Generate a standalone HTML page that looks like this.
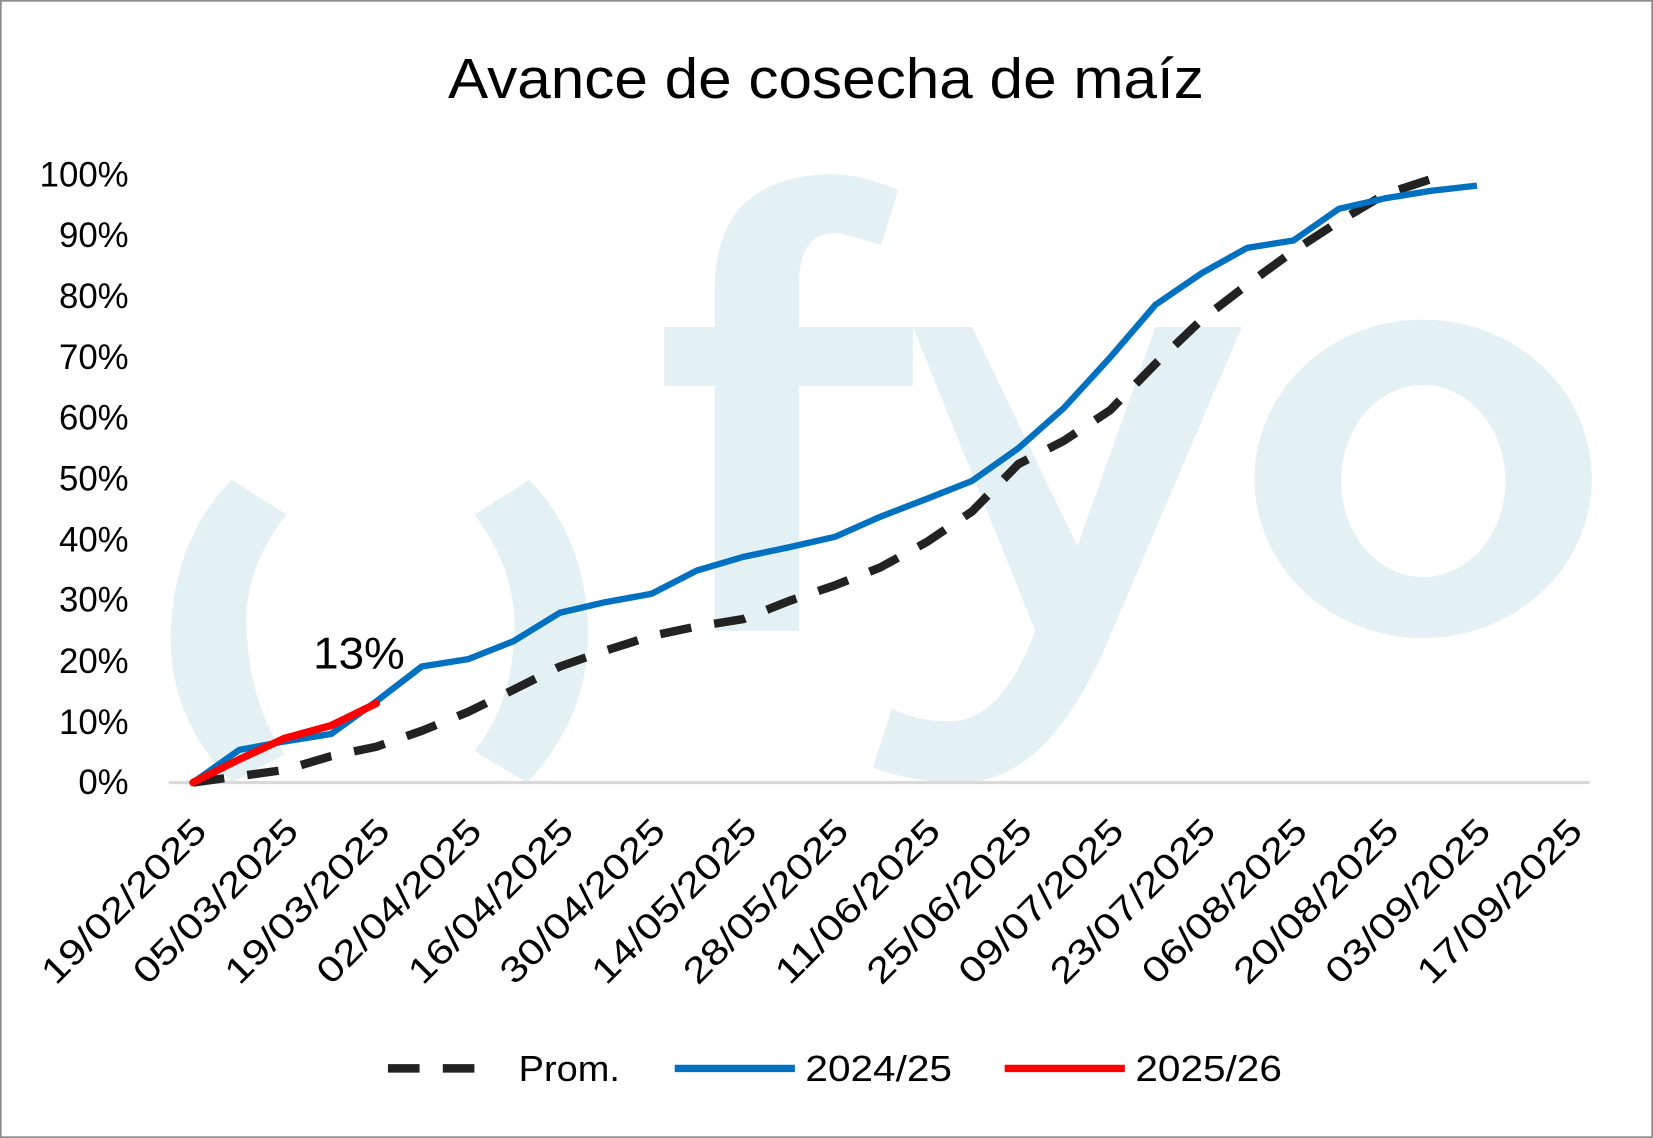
<!DOCTYPE html>
<html><head><meta charset="utf-8"><style>
html,body{margin:0;padding:0;background:#fff;}
svg{display:block;}
text{font-family:"Liberation Sans",sans-serif;}
</style></head><body>
<svg width="1653" height="1138" viewBox="0 0 1568 1079" preserveAspectRatio="none" xmlns="http://www.w3.org/2000/svg">
<rect x="0.8" y="0.8" width="1566.4" height="1077.4" fill="#fff" stroke="#8c8c8c" stroke-width="1.6"/>
<g fill="#e3f1f5">
<path d="M220,455 L272,488 Q230,540 234,600 Q238,670 270,715 L220,742 Q160,680 162,600 Q165,510 220,455 Z"/>
<path d="M502,455 L450,488 Q490,540 488,600 Q485,670 450,712 L500,742 Q558,680 558,600 Q556,510 502,455 Z"/>
<path d="M678,598 L758,598 L758,366 L866,366 L866,310 L758,310 L758,265 Q760,215 800,222 L836,232 L852,180 Q815,165 788,165 Q680,168 678,270 L678,310 L630,310 L630,366 L678,366 Z"/>
<path d="M866,310 L922,310 L1022,518 L1096,310 L1178,310 L1050,610 Q990,750 900,742 Q860,740 828,728 L846,672 Q870,684 900,684 Q950,684 982,598 Z"/>
<path fill-rule="evenodd" d="M1190,454 A160,151 0 1 0 1510,454 A160,151 0 1 0 1190,454 Z M1272,456 A78,91 0 1 0 1428,456 A78,91 0 1 0 1272,456 Z"/>
</g>
<line x1="160" y1="742" x2="1508" y2="742" stroke="#d9d9d9" stroke-width="3"/>
<text x="425" y="93" font-size="54" textLength="717" lengthAdjust="spacingAndGlyphs" fill="#000">Avance de cosecha de maíz</text>
<g font-size="33" fill="#000" text-anchor="end">
<text x="122" y="177">100%</text><text x="122" y="234">90%</text><text x="122" y="292">80%</text><text x="122" y="350">70%</text><text x="122" y="407">60%</text><text x="122" y="465">50%</text><text x="122" y="523">40%</text><text x="122" y="580">30%</text><text x="122" y="638">20%</text><text x="122" y="696">10%</text><text x="122" y="753">0%</text>
</g>
<g font-size="34" fill="#000" text-anchor="end">
<text transform="translate(198,790) rotate(-45)" textLength="205" lengthAdjust="spacingAndGlyphs">19/02/2025</text>
<text transform="translate(285,790) rotate(-45)" textLength="205" lengthAdjust="spacingAndGlyphs">05/03/2025</text>
<text transform="translate(372,790) rotate(-45)" textLength="205" lengthAdjust="spacingAndGlyphs">19/03/2025</text>
<text transform="translate(459,790) rotate(-45)" textLength="205" lengthAdjust="spacingAndGlyphs">02/04/2025</text>
<text transform="translate(546,790) rotate(-45)" textLength="205" lengthAdjust="spacingAndGlyphs">16/04/2025</text>
<text transform="translate(633,790) rotate(-45)" textLength="205" lengthAdjust="spacingAndGlyphs">30/04/2025</text>
<text transform="translate(720,790) rotate(-45)" textLength="205" lengthAdjust="spacingAndGlyphs">14/05/2025</text>
<text transform="translate(807,790) rotate(-45)" textLength="205" lengthAdjust="spacingAndGlyphs">28/05/2025</text>
<text transform="translate(894,790) rotate(-45)" textLength="205" lengthAdjust="spacingAndGlyphs">11/06/2025</text>
<text transform="translate(981,790) rotate(-45)" textLength="205" lengthAdjust="spacingAndGlyphs">25/06/2025</text>
<text transform="translate(1068,790) rotate(-45)" textLength="205" lengthAdjust="spacingAndGlyphs">09/07/2025</text>
<text transform="translate(1155,790) rotate(-45)" textLength="205" lengthAdjust="spacingAndGlyphs">23/07/2025</text>
<text transform="translate(1242,790) rotate(-45)" textLength="205" lengthAdjust="spacingAndGlyphs">06/08/2025</text>
<text transform="translate(1329,790) rotate(-45)" textLength="205" lengthAdjust="spacingAndGlyphs">20/08/2025</text>
<text transform="translate(1416,790) rotate(-45)" textLength="205" lengthAdjust="spacingAndGlyphs">03/09/2025</text>
<text transform="translate(1503,790) rotate(-45)" textLength="205" lengthAdjust="spacingAndGlyphs">17/09/2025</text>
</g>
<polyline fill="none" stroke="#222" stroke-width="8" stroke-dasharray="30,22" stroke-linejoin="round" points="183,742 270,730 314,717 357,708 400,693 444,675 487,654 531,632 574,617 618,603 661,594 705,587 748,570 792,555 835,538 879,514 922,485 966,440 1009,418 1053,389 1096,345 1140,303 1183,270 1227,238 1270,210 1314,184 1357,170 1372,170"/>
<polyline fill="none" stroke="#0070c0" stroke-width="6" stroke-linejoin="round" points="183,742 227,711 270,703 314,696 357,665 400,632 444,625 487,608 531,581 574,571 618,563 661,541 705,528 748,519 792,509 835,490 879,473 922,456 966,425 1009,387 1053,339 1096,289 1140,259 1183,235 1227,228 1270,198 1314,188 1357,181 1401,176"/>
<polyline fill="none" stroke="#ff0000" stroke-width="7" stroke-linecap="round" stroke-linejoin="round" points="183,742 227,720 270,700 314,688 357,667"/>
<text x="297" y="634" font-size="42" textLength="87" lengthAdjust="spacingAndGlyphs" fill="#000">13%</text>
<line x1="368" y1="1013" x2="460" y2="1013" stroke="#222" stroke-width="8" stroke-dasharray="30,22"/>
<text x="492" y="1025" font-size="34" textLength="96" lengthAdjust="spacingAndGlyphs" fill="#000">Prom.</text>
<line x1="640" y1="1013" x2="754" y2="1013" stroke="#0070c0" stroke-width="7"/>
<text x="764" y="1025" font-size="34" textLength="139" lengthAdjust="spacingAndGlyphs" fill="#000">2024/25</text>
<line x1="953" y1="1013" x2="1067" y2="1013" stroke="#ff0000" stroke-width="7"/>
<text x="1077" y="1025" font-size="34" textLength="139" lengthAdjust="spacingAndGlyphs" fill="#000">2025/26</text>
</svg>
</body></html>
